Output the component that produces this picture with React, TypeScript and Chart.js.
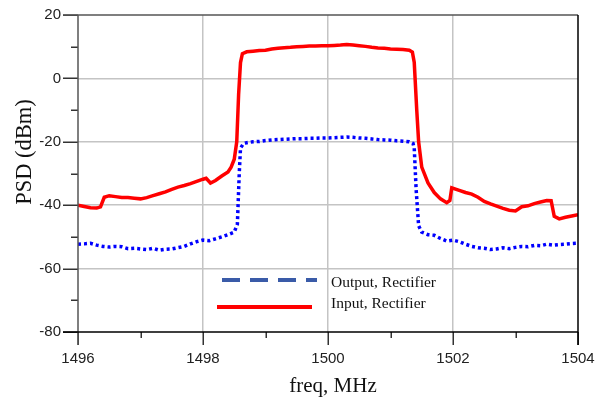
import { useEffect, useRef } from "react";
import { Chart, registerables } from "chart.js";

Chart.register(...registerables);

// ---- data ----
const inputFreq = [
  1496.0, 1496.1, 1496.2, 1496.3, 1496.36, 1496.42, 1496.5, 1496.6, 1496.7, 1496.8, 1496.9,
  1497.0, 1497.1, 1497.2, 1497.3, 1497.4, 1497.5, 1497.6, 1497.7, 1497.8, 1497.9,
  1498.0, 1498.05, 1498.12, 1498.2, 1498.3, 1498.4, 1498.45, 1498.5, 1498.54, 1498.57, 1498.6, 1498.63,
  1498.7, 1498.8, 1498.9, 1499.0, 1499.1, 1499.2, 1499.3, 1499.4, 1499.5, 1499.6, 1499.7, 1499.8, 1499.9,
  1500.0, 1500.1, 1500.2, 1500.3, 1500.4, 1500.5, 1500.6, 1500.7, 1500.8, 1500.9,
  1501.0, 1501.1, 1501.2, 1501.3, 1501.35, 1501.38, 1501.42, 1501.45, 1501.5, 1501.6, 1501.7, 1501.8, 1501.9,
  1501.95, 1501.98, 1502.1, 1502.2, 1502.3, 1502.4, 1502.5, 1502.6, 1502.7, 1502.8, 1502.9,
  1503.0, 1503.1, 1503.2, 1503.3, 1503.4, 1503.5, 1503.57, 1503.62, 1503.7, 1503.8, 1503.9, 1504.0,
];
const inputPsd = [
  -40.0, -40.4, -40.8, -40.9, -40.5, -37.5, -37.0, -37.3, -37.6, -37.6, -37.8,
  -38.0, -37.6, -37.0, -36.4, -35.8, -35.0, -34.3, -33.8, -33.2, -32.5,
  -31.8, -31.5, -33.0, -32.2, -30.8, -29.5, -28.0, -25.5, -20.0, -5.0, 5.0, 7.8,
  8.4, 8.6, 8.8, 8.9, 9.3, 9.5, 9.7, 9.8, 10.0, 10.1, 10.2, 10.2, 10.3,
  10.3, 10.4, 10.5, 10.7, 10.5, 10.3, 10.1, 9.8, 9.6, 9.5,
  9.3, 9.2, 9.1, 8.9, 8.3, 5.0, -10.0, -20.0, -28.0, -33.0, -36.0, -38.0, -39.2,
  -38.5, -34.5, -35.3, -36.0, -36.5, -37.5, -38.8, -39.6, -40.3, -41.0, -41.6,
  -41.8, -40.5, -40.2, -39.5, -39.0, -38.5, -38.6, -43.5, -44.3, -43.8, -43.4, -43.0,
];

const outputFreq = [
  1496.0, 1496.1, 1496.2, 1496.3, 1496.4, 1496.5, 1496.6, 1496.7, 1496.8, 1496.9,
  1497.0, 1497.1, 1497.2, 1497.3, 1497.4, 1497.5, 1497.6, 1497.7, 1497.8, 1497.9,
  1498.0, 1498.1, 1498.2, 1498.3, 1498.4, 1498.5, 1498.55, 1498.58, 1498.6, 1498.65,
  1498.7, 1498.8, 1498.9, 1499.0, 1499.1, 1499.2, 1499.3, 1499.4, 1499.5, 1499.6, 1499.7, 1499.8, 1499.9,
  1500.0, 1500.1, 1500.2, 1500.3, 1500.4, 1500.5, 1500.6, 1500.7, 1500.8, 1500.9,
  1501.0, 1501.1, 1501.2, 1501.3, 1501.36, 1501.38, 1501.41, 1501.45, 1501.5, 1501.6, 1501.7, 1501.8, 1501.9,
  1502.0, 1502.1, 1502.2, 1502.3, 1502.4, 1502.5, 1502.6, 1502.7, 1502.8, 1502.9,
  1503.0, 1503.1, 1503.2, 1503.3, 1503.4, 1503.5, 1503.6, 1503.7, 1503.8, 1503.9, 1504.0,
];
const outputPsd = [
  -52.3, -52.2, -52.0, -52.6, -53.0, -53.2, -53.0, -53.1, -53.7, -53.6,
  -53.8, -54.0, -53.6, -54.2, -53.9, -53.8, -53.4, -53.0, -52.2, -51.5,
  -51.0, -51.2, -50.6, -50.0, -49.3, -48.5, -46.0, -30.0, -22.0, -20.5,
  -20.3, -20.0, -19.9, -19.6, -19.4, -19.3, -19.2, -19.1, -19.0, -19.0, -18.9, -18.9, -18.8,
  -18.8, -18.7, -18.6, -18.5, -18.6, -18.8, -18.9, -19.1, -19.3, -19.4,
  -19.5, -19.7, -19.8, -20.0, -20.5, -22.0, -35.0, -46.5, -48.5, -49.3, -49.5, -50.5, -51.3,
  -51.0, -51.5, -52.3, -53.0, -53.4, -53.6, -54.0, -53.8, -53.4, -53.7,
  -53.3, -53.0, -53.1, -52.7, -52.8, -52.3, -52.6, -52.4, -52.3, -52.1, -52.0,
];

const xMajorTicks = [1496, 1498, 1500, 1502, 1504];
const xMinorTicks = [1497, 1499, 1501, 1503];
const yMajorTicks = [20, 0, -20, -40, -60, -80];
const yMinorTicks = [10, -10, -30, -50, -70];
const legendLabels = ["Output, Rectifier", "Input, Rectifier"];
const xTitle = "freq, MHz";
const yTitle = "PSD (dBm)";

const SANS = "'Liberation Sans', Arial, sans-serif";
const SERIF = "'Liberation Serif', 'Times New Roman', serif";

const decorPlugin = {
  id: "decor",
  afterDraw(chart: any) {
    const ctx = chart.ctx;
    const xs = chart.scales.x;
    const ys = chart.scales.y;
    const L = chart.chartArea.left;
    const R = chart.chartArea.right;
    const T = chart.chartArea.top;
    const B = chart.chartArea.bottom;
    ctx.save();
    ctx.lineCap = "butt";
    ctx.strokeStyle = "#333";
    ctx.lineWidth = 1.5;
    yMajorTicks.forEach((v) => {
      const y = Math.round(ys.getPixelForValue(v)) + 0.25;
      ctx.beginPath();
      ctx.moveTo(L - 15, y);
      ctx.lineTo(L, y);
      ctx.stroke();
    });
    yMinorTicks.forEach((v) => {
      const y = Math.round(ys.getPixelForValue(v)) + 0.25;
      ctx.beginPath();
      ctx.moveTo(L - 7, y);
      ctx.lineTo(L, y);
      ctx.stroke();
    });
    xMajorTicks.forEach((v) => {
      const x = Math.round(xs.getPixelForValue(v)) + 0.25;
      ctx.beginPath();
      ctx.moveTo(x, B);
      ctx.lineTo(x, B + 13);
      ctx.stroke();
    });
    xMinorTicks.forEach((v) => {
      const x = Math.round(xs.getPixelForValue(v)) + 0.25;
      ctx.beginPath();
      ctx.moveTo(x, B);
      ctx.lineTo(x, B + 6);
      ctx.stroke();
    });
    ctx.strokeStyle = "#555";
    ctx.beginPath();
    ctx.moveTo(L - 15, T);
    ctx.lineTo(R, T);
    ctx.moveTo(L, T);
    ctx.lineTo(L, B + 13);
    ctx.stroke();
    ctx.strokeStyle = "#000";
    ctx.beginPath();
    ctx.moveTo(L - 15, B);
    ctx.lineTo(R, B);
    ctx.moveTo(R, T);
    ctx.lineTo(R, B + 13);
    ctx.stroke();

    ctx.fillStyle = "#111";
    ctx.textAlign = "center";
    ctx.textBaseline = "middle";
    ctx.font = `21px ${SERIF}`;
    ctx.fillText(xTitle, 333, 386);
    ctx.save();
    ctx.translate(25, 152);
    ctx.rotate(-Math.PI / 2);
    ctx.font = `22.5px ${SERIF}`;
    ctx.fillText(yTitle, 0, 0);
    ctx.restore();

    ctx.lineWidth = 4;
    ctx.strokeStyle = "#3a5ba8";
    ctx.setLineDash([18, 10]);
    ctx.beginPath();
    ctx.moveTo(222, 280);
    ctx.lineTo(317, 280);
    ctx.stroke();
    ctx.setLineDash([]);
    ctx.strokeStyle = "#ff0000";
    ctx.beginPath();
    ctx.moveTo(217, 307);
    ctx.lineTo(312, 307);
    ctx.stroke();
    ctx.fillStyle = "#111";
    ctx.textAlign = "left";
    ctx.textBaseline = "middle";
    ctx.font = `15.5px ${SERIF}`;
    ctx.fillText(legendLabels[0], 331, 283);
    ctx.fillText(legendLabels[1], 331, 304);
    ctx.restore();
  },
};

export default function App() {
  const ref = useRef<HTMLCanvasElement>(null);
  useEffect(() => {
    if (!ref.current) return;
    const chart = new Chart(ref.current, {
      type: "line",
      data: {
        datasets: [
          {
            label: legendLabels[1],
            data: inputFreq.map((f, i) => ({ x: f, y: inputPsd[i] })),
            borderColor: "#ff0000",
            borderWidth: 3.5,
            pointRadius: 0,
            tension: 0,
          },
          {
            label: legendLabels[0],
            data: outputFreq.map((f, i) => ({ x: f, y: outputPsd[i] })),
            borderColor: "#0000ff",
            borderWidth: 3.5,
            borderDash: [3, 3],
            pointRadius: 0,
            tension: 0,
          },
        ],
      },
      options: {
        responsive: false,
        animation: false,
        layout: { padding: { top: 15, right: 28, left: 0, bottom: 0 } },
        plugins: { legend: { display: false }, tooltip: { enabled: false } },
        scales: {
          x: {
            type: "linear",
            min: 1496,
            max: 1504,
            afterFit: (s: any) => {
              s.height = 70;
              s.paddingLeft = 0;
              s.paddingRight = 0;
            },
            ticks: {
              stepSize: 2,
              padding: 18,
              color: "#222",
              font: { family: SANS, size: 15 },
              maxRotation: 0,
              callback: (v: any) => String(v),
            },
            grid: {
              drawTicks: false,
              lineWidth: 1.5,
              color: (c: any) =>
                c.tick && (c.tick.value === 1496 || c.tick.value === 1504) ? "rgba(0,0,0,0)" : "#c4c4c4",
            },
            border: { display: false },
          },
          y: {
            type: "linear",
            min: -80,
            max: 20,
            afterFit: (s: any) => {
              s.width = 78;
              s.paddingTop = 0;
              s.paddingBottom = 0;
            },
            ticks: {
              stepSize: 20,
              padding: 17,
              color: "#222",
              font: { family: SANS, size: 15 },
              callback: (v: any) => String(v),
            },
            grid: {
              drawTicks: false,
              lineWidth: 1.5,
              color: (c: any) =>
                c.tick && (c.tick.value === 20 || c.tick.value === -80) ? "rgba(0,0,0,0)" : "#c4c4c4",
            },
            border: { display: false },
          },
        },
      },
      plugins: [decorPlugin],
    });
    return () => chart.destroy();
  }, []);
  return (
    <div style={{ position: "absolute", left: 0, top: 0, width: 606, height: 402, background: "#fff" }}>
      <canvas ref={ref} width={606} height={402} />
    </div>
  );
}
